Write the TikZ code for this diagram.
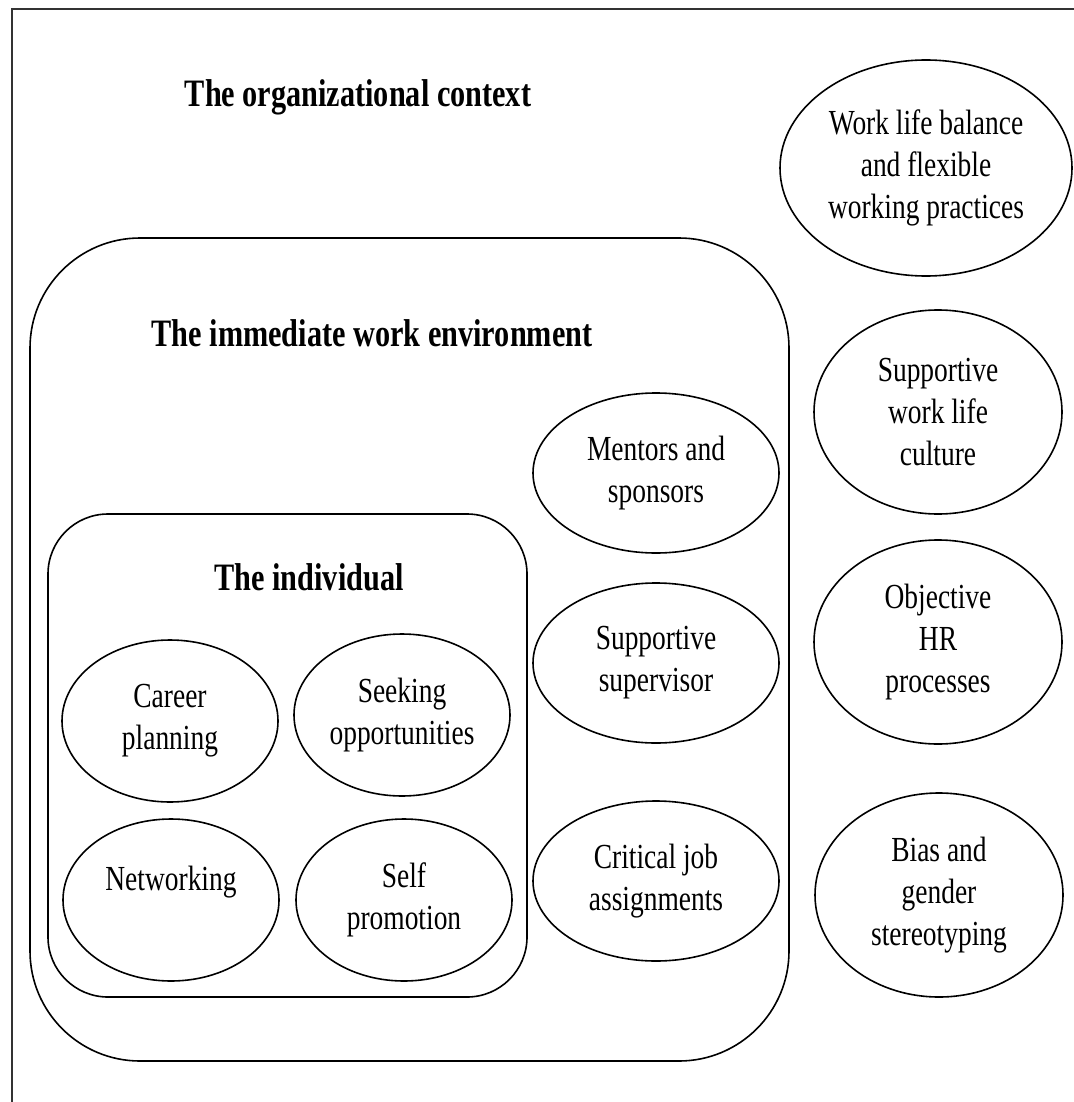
\documentclass[tikz,border=0pt]{standalone}
\usepackage{fontspec}
\setmainfont{Liberation Serif}[FakeStretch=0.78]
\usetikzlibrary{shapes.geometric}

\begin{document}
\begin{tikzpicture}[x=0.5pt, y=-0.5pt,
  oval/.style={draw, ellipse, line width=0.8pt, inner sep=0pt, align=center,
    font=\fontsize{17.6}{21}\selectfont},
  indiv/.style={oval, minimum width=108pt, minimum height=81pt},
  envir/.style={oval, minimum width=123pt, minimum height=80pt},
  orgn/.style={oval, minimum width=124pt, minimum height=102pt},
  heading/.style={font=\fontsize{19.4}{23}\selectfont\bfseries}]

\useasboundingbox (0,0) rectangle (1074,1102);
\clip (0,0) rectangle (1074,1102);

% organizational context frame (runs off the page)
\draw[line width=1pt, black!80] (12,1120) -- (12,9) -- (1090,9);
\node[heading] (orgtitle) at (358,97) {The organizational context};

% organizational context: right column
\node[oval, minimum width=146pt, minimum height=108pt] (balance) at (926,168) {Work life balance\\and flexible\\working practices};
\node[orgn] (culture) at (938,412) {Supportive\\work life\\culture};
\node[orgn] (hrproc) at (938,642) {Objective\\HR\\processes};
\node[orgn] (bias) at (939,895) {Bias and\\gender\\stereotyping};

% immediate work environment
\draw[line width=0.8pt, rounded corners=55pt] (30,238) rectangle (789,1061);
\node[heading] (envtitle) at (372,333) {The immediate work environment};

\node[envir] (mentors) at (656,473) {Mentors and\\sponsors};
\node[envir] (supervisor) at (656,663) {Supportive\\supervisor};
\node[envir] (critical) at (656,881) {Critical job\\assignments};

% the individual
\draw[line width=0.8pt, rounded corners=30pt] (48,514) rectangle (527,997);
\node[heading] (indtitle) at (309,577) {The individual};

\node[indiv] (career) at (170,721) {Career\\planning};
\node[indiv] (seeking) at (402,715) {Seeking\\opportunities};
\node[indiv] (network) at (171,900) {};
\node[font=\fontsize{17.6}{21}\selectfont] (networklbl) at (171,882) {Networking};
\node[indiv] (selfpromo) at (404,900) {Self\\promotion};

\end{tikzpicture}
\end{document}
